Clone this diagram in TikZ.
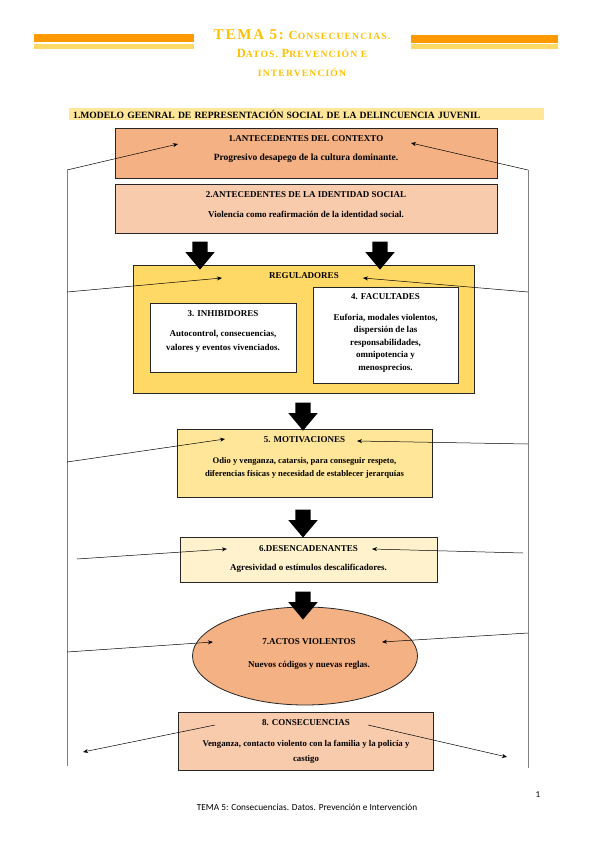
\documentclass[tikz,border=0pt]{standalone}
\usepackage{fontspec}
\setmainfont{Liberation Serif}
\newfontfamily\titulofont{Liberation Serif}[LetterSpace=12]
\newfontfamily\piefont{Carlito}
\usetikzlibrary{shapes.geometric,shapes.arrows,arrows.meta,positioning}
\definecolor{naranja}{HTML}{FF9900}
\definecolor{oro}{HTML}{FFC000}
\definecolor{oroclaro}{HTML}{FFD966}
\definecolor{crema}{HTML}{FFE699}
\definecolor{cremaclaro}{HTML}{FFF2CC}
\definecolor{salmon}{HTML}{F4B183}
\definecolor{salmonclaro}{HTML}{F8CBAD}

\begin{document}
\begin{tikzpicture}[x=1pt,y=-1pt,>={Stealth[length=5pt,width=4pt]},
	caja/.style={draw=black!85,line width=0.8pt,inner sep=0pt},
	txt/.style={font=\bfseries\fontsize{9}{12.5}\selectfont,align=center,inner sep=0pt},
	flecha/.style={single arrow,fill=black,shape border rotate=270,inner sep=7.5pt,single arrow head extend=7pt,single arrow tip angle=80,minimum height=28pt},
	lazo/.style={->,line width=0.5pt}
	]
	\useasboundingbox (0,0) rectangle (599,848);

	% cabecera
	\fill[naranja] (34,34) rectangle (194,42);
	\fill[oroclaro] (34,44) rectangle (194,49);
	\fill[naranja] (411,35) rectangle (558,43);
	\fill[oroclaro] (411,44) rectangle (558,49);
	\node[text=oro,align=center,inner sep=0pt,font=\titulofont\bfseries\fontsize{9.6}{18.5}\selectfont] (tema) at (302,53)
		{{\fontsize{15}{18.5}\selectfont TEMA 5:} {\fontsize{12.5}{18.5}\selectfont C}ONSECUENCIAS.\\
		{\fontsize{12.5}{18.5}\selectfont D}ATOS. {\fontsize{12.5}{18.5}\selectfont P}REVENCIÓN E\\
		INTERVENCIÓN};

	\node[fill=crema,anchor=west,text width=467pt,inner xsep=4pt,inner ysep=0pt,minimum height=12pt,align=left,font=\bfseries\fontsize{9.6}{9.6}\selectfont] (titulo) at (69,114)
		{1.MODELO GEENRAL DE REPRESENTACIÓN SOCIAL DE LA DELINCUENCIA JUVENIL};

	% lineas de retorno
	\coordinate (i0) at (67,170); \coordinate (i1) at (67,766);
	\coordinate (d0) at (528,170); \coordinate (d1) at (528,768);
	\draw[black!50,line width=0.6pt] (i0) -- (i1);
	\draw[black!50,line width=0.6pt] (d0) -- (d1);

	% cajas
	\node[caja,fill=salmon,minimum width=382pt,minimum height=50pt] (b1) at (306,153) {};
	\node[txt] (t1) at (306,139) {1.ANTECEDENTES DEL CONTEXTO};
	\node[txt,font=\bfseries\fontsize{9.5}{12}\selectfont] (c1) at (306,158) {Progresivo desapego de la cultura dominante.};

	\node[caja,fill=salmonclaro,minimum width=382pt,minimum height=49pt] (b2) at (306,208.5) {};
	\node[txt] (t2) at (306,195) {2.ANTECEDENTES DE LA IDENTIDAD SOCIAL};
	\node[txt] (c2) at (306,214) {Violencia como reafirmación de la identidad social.};

	\node[caja,fill=oroclaro,minimum width=341pt,minimum height=128pt] (reg) at (303.5,329) {};
	\node[txt] (treg) at (304,276) {REGULADORES};
	\node[caja,fill=white,minimum width=146pt,minimum height=69pt] (b3) at (223,337.5) {};
	\node[txt] (t3) at (223,314) {3. INHIBIDORES};
	\node[txt,font=\fontsize{9}{14}\selectfont\bfseries] (c3) at (223,341) {Autocontrol, consecuencias,\\valores y eventos vivenciados.};
	\node[caja,fill=white,minimum width=145pt,minimum height=96pt] (b4) at (385.5,335) {};
	\node[txt] (t4) at (385.5,297) {4. FACULTADES};
	\node[txt] (c4) at (385.5,343) {Euforia, modales violentos,\\dispersión de las\\responsabilidades,\\omnipotencia y\\menosprecios.};

	\node[caja,fill=crema,minimum width=255pt,minimum height=68pt] (b5) at (304.5,463) {};
	\node[txt] (t5) at (304.5,440) {5. MOTIVACIONES};
	\node[txt,font=\fontsize{8.6}{13}\selectfont\bfseries] (c5) at (304.5,467.5) {Odio y venganza, catarsis, para conseguir respeto,\\diferencias físicas y necesidad de establecer jerarquías};

	\node[caja,fill=cremaclaro,minimum width=257pt,minimum height=45pt] (b6) at (308.5,559.5) {};
	\node[txt] (t6) at (308.5,549) {6.DESENCADENANTES};
	\node[txt] (c6) at (308.5,568) {Agresividad o estímulos descalificadores.};

	\node[ellipse,caja,fill=salmon,minimum width=225pt,minimum height=98pt] (b7) at (305,656) {};
	\node[txt] (t7) at (309,642) {7.ACTOS VIOLENTOS};
	\node[txt] (c7) at (309,665) {Nuevos códigos y nuevas reglas.};

	\node[caja,fill=salmonclaro,minimum width=255pt,minimum height=58pt] (b8) at (305.5,741) {};
	\node[txt] (t8) at (306,723) {8. CONSECUENCIAS};
	\node[txt,font=\fontsize{8.8}{15}\selectfont\bfseries] (c8) at (306,751.5) {Venganza, contacto violento con la familia y la policía y\\castigo};

	% flechas gruesas
	\node[flecha] (f1) at (200,251) {};
	\node[flecha] (f2) at (380,251) {};
	\node[flecha] (f3) at (303,412) {};
	\node[flecha] (f4) at (303,519) {};
	\node[flecha] (f5) at (303,601) {};

	% flechas de retorno
	\coordinate (p1i) at (178,144); \coordinate (p1d) at (411,143);
	\coordinate (p2i) at (222,278); \coordinate (p2d) at (363,278);
	\coordinate (p5i) at (225,439); \coordinate (p5d) at (357,441);
	\coordinate (p6i) at (227,549); \coordinate (p6d) at (372,549);
	\coordinate (p7i) at (213,642); \coordinate (p7d) at (382,642);
	\coordinate (s8i) at (215,725); \coordinate (s8d) at (368,725);
	\coordinate (e8i) at (83,752); \coordinate (e8d) at (507,757);

	\draw[lazo] (i0) -- (p1i);
	\draw[lazo] (d0) -- (p1d);
	\draw[lazo] (67,292) -- (p2i);
	\draw[lazo] (528,292) -- (p2d);
	\draw[lazo] (67,462) -- (p5i);
	\draw[lazo] (528,444) -- (p5d);
	\draw[lazo] (77,559) -- (p6i);
	\draw[lazo] (523,553) -- (p6d);
	\draw[lazo] (67,652) -- (p7i);
	\draw[lazo] (528,633) -- (p7d);
	\draw[lazo] (s8i) -- (e8i);
	\draw[lazo] (s8d) -- (e8d);

	% pie
	\node[font=\piefont\fontsize{9}{9}\selectfont,inner sep=0pt] (pag) at (538,795) {1};
	\node[font=\piefont\fontsize{9.3}{9}\selectfont,inner sep=0pt] (pie) at (307,807) {TEMA 5: Consecuencias. Datos. Prevención e Intervención};
\end{tikzpicture}
\end{document}
